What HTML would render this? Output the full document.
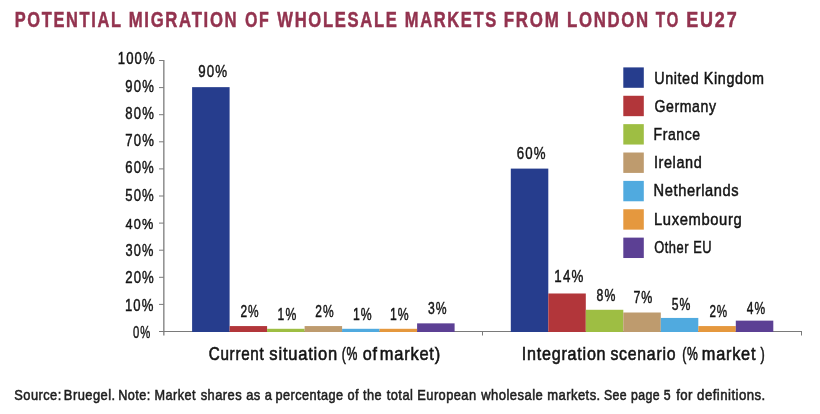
<!DOCTYPE html>
<html><head><meta charset="utf-8"><style>
html,body{margin:0;padding:0;background:#fff;width:820px;height:414px;overflow:hidden}
svg{display:block;will-change:transform}
text{font-family:"Liberation Sans",sans-serif}
</style></head><body>
<svg width="820" height="414" viewBox="0 0 820 414">
<rect width="820" height="414" fill="#fff"/>
<g fill="none">
<line x1="163.8" y1="60" x2="163.8" y2="335.5" stroke="#949494" stroke-width="1.6"/>
<line x1="159" y1="331.5" x2="802" y2="331.5" stroke="#7a7a7a" stroke-width="1.2"/>
<line x1="159" y1="304.4" x2="163.8" y2="304.4" stroke="#7a7a7a" stroke-width="1"/><line x1="159" y1="277.3" x2="163.8" y2="277.3" stroke="#7a7a7a" stroke-width="1"/><line x1="159" y1="250.2" x2="163.8" y2="250.2" stroke="#7a7a7a" stroke-width="1"/><line x1="159" y1="223.1" x2="163.8" y2="223.1" stroke="#7a7a7a" stroke-width="1"/><line x1="159" y1="196" x2="163.8" y2="196" stroke="#7a7a7a" stroke-width="1"/><line x1="159" y1="168.9" x2="163.8" y2="168.9" stroke="#7a7a7a" stroke-width="1"/><line x1="159" y1="141.8" x2="163.8" y2="141.8" stroke="#7a7a7a" stroke-width="1"/><line x1="159" y1="114.7" x2="163.8" y2="114.7" stroke="#7a7a7a" stroke-width="1"/><line x1="159" y1="87.6" x2="163.8" y2="87.6" stroke="#7a7a7a" stroke-width="1"/><line x1="159" y1="60.5" x2="163.8" y2="60.5" stroke="#7a7a7a" stroke-width="1"/>
<line x1="482.5" y1="331.5" x2="482.5" y2="335.5" stroke="#7a7a7a" stroke-width="1"/>
<line x1="801.5" y1="331.5" x2="801.5" y2="335.5" stroke="#7a7a7a" stroke-width="1"/>
</g>
<rect x="192.1" y="87.15" width="37.5" height="244.85" fill="#263d8d"/>
<rect x="229.6" y="326.07" width="37.5" height="5.93" fill="#b2363a"/>
<rect x="267.1" y="328.79" width="37.5" height="3.21" fill="#9ebe43"/>
<rect x="304.6" y="326.07" width="37.5" height="5.93" fill="#be9b6e"/>
<rect x="342.1" y="328.79" width="37.5" height="3.21" fill="#50aadf"/>
<rect x="379.6" y="328.79" width="37.5" height="3.21" fill="#e5983e"/>
<rect x="417.1" y="323.36" width="37.5" height="8.64" fill="#5c4094"/>
<rect x="510.8" y="168.6" width="37.5" height="163.4" fill="#263d8d"/>
<rect x="548.3" y="293.49" width="37.5" height="38.51" fill="#b2363a"/>
<rect x="585.8" y="309.78" width="37.5" height="22.22" fill="#9ebe43"/>
<rect x="623.3" y="312.5" width="37.5" height="19.5" fill="#be9b6e"/>
<rect x="660.8" y="317.93" width="37.5" height="14.07" fill="#50aadf"/>
<rect x="698.3" y="326.07" width="37.5" height="5.93" fill="#e5983e"/>
<rect x="735.8" y="320.64" width="37.5" height="11.36" fill="#5c4094"/>
<rect x="623.3" y="67.4" width="20.5" height="20.4" fill="#263d8d"/>
<rect x="623.3" y="95.77" width="20.5" height="20.4" fill="#b2363a"/>
<rect x="623.3" y="124.14" width="20.5" height="20.4" fill="#9ebe43"/>
<rect x="623.3" y="152.51" width="20.5" height="20.4" fill="#be9b6e"/>
<rect x="623.3" y="180.88" width="20.5" height="20.4" fill="#50aadf"/>
<rect x="623.3" y="209.25" width="20.5" height="20.4" fill="#e5983e"/>
<rect x="623.3" y="237.62" width="20.5" height="20.4" fill="#5c4094"/>
<text transform="translate(14.71 26.78) scale(0.7525 1)" font-size="21.83" font-weight="bold" fill="#93334f" letter-spacing="2.2" stroke="#93334f" stroke-width="0.5">POTENTIAL</text>
<text transform="translate(128.7 26.78) scale(0.7669 1)" font-size="21.83" font-weight="bold" fill="#93334f" letter-spacing="2.2" stroke="#93334f" stroke-width="0.5">MIGRATION</text>
<text transform="translate(244.96 26.78) scale(0.7330 1)" font-size="21.83" font-weight="bold" fill="#93334f" letter-spacing="2.2" stroke="#93334f" stroke-width="0.5">OF</text>
<text transform="translate(277.3 26.78) scale(0.7615 1)" font-size="21.83" font-weight="bold" fill="#93334f" letter-spacing="2.2" stroke="#93334f" stroke-width="0.5">WHOLESALE</text>
<text transform="translate(404.76 26.78) scale(0.7557 1)" font-size="21.83" font-weight="bold" fill="#93334f" letter-spacing="2.2" stroke="#93334f" stroke-width="0.5">MARKETS</text>
<text transform="translate(503.83 26.78) scale(0.7751 1)" font-size="21.83" font-weight="bold" fill="#93334f" letter-spacing="2.2" stroke="#93334f" stroke-width="0.5">FROM</text>
<text transform="translate(566.99 26.78) scale(0.7690 1)" font-size="21.83" font-weight="bold" fill="#93334f" letter-spacing="2.2" stroke="#93334f" stroke-width="0.5">LONDON</text>
<text transform="translate(655.85 26.78) scale(0.6983 1)" font-size="21.83" font-weight="bold" fill="#93334f" letter-spacing="2.2" stroke="#93334f" stroke-width="0.5">TO</text>
<text transform="translate(686.22 26.78) scale(0.8239 1)" font-size="21.83" font-weight="bold" fill="#93334f" letter-spacing="2.2" stroke="#93334f" stroke-width="0.5">EU27</text>
<text transform="translate(117.78 63.68) scale(0.7871 1)" font-size="16.69" font-weight="normal" fill="#141414" letter-spacing="1.4" stroke="#141414" stroke-width="0.45">100%</text>
<text transform="translate(125.33 91.54) scale(0.8310 1)" font-size="15.74" font-weight="normal" fill="#141414" letter-spacing="1.4" stroke="#141414" stroke-width="0.45">90%</text>
<text transform="translate(125.33 118.74) scale(0.8159 1)" font-size="16.06" font-weight="normal" fill="#141414" letter-spacing="1.4" stroke="#141414" stroke-width="0.45">80%</text>
<text transform="translate(125.19 145.74) scale(0.8401 1)" font-size="15.63" font-weight="normal" fill="#141414" letter-spacing="1.4" stroke="#141414" stroke-width="0.45">70%</text>
<text transform="translate(125.19 173.22) scale(0.8248 1)" font-size="15.95" font-weight="normal" fill="#141414" letter-spacing="1.4" stroke="#141414" stroke-width="0.45">60%</text>
<text transform="translate(125.32 200.83) scale(0.7784 1)" font-size="16.9" font-weight="normal" fill="#141414" letter-spacing="1.4" stroke="#141414" stroke-width="0.45">50%</text>
<text transform="translate(125.6 228.59) scale(0.8166 1)" font-size="15.56" font-weight="normal" fill="#141414" letter-spacing="1.4" stroke="#141414" stroke-width="0.45">40%</text>
<text transform="translate(125.47 255.84) scale(0.7879 1)" font-size="16.27" font-weight="normal" fill="#141414" letter-spacing="1.4" stroke="#141414" stroke-width="0.45">30%</text>
<text transform="translate(125.19 282.99) scale(0.8198 1)" font-size="16.06" font-weight="normal" fill="#141414" letter-spacing="1.4" stroke="#141414" stroke-width="0.45">20%</text>
<text transform="translate(124.93 310.83) scale(0.7754 1)" font-size="16.9" font-weight="normal" fill="#141414" letter-spacing="1.4" stroke="#141414" stroke-width="0.45">10%</text>
<text transform="translate(132.96 337.73) scale(0.6666 1)" font-size="16.9" font-weight="normal" fill="#141414" letter-spacing="1.4" stroke="#141414" stroke-width="0.45">0%</text>
<text transform="translate(198.22 77.28) scale(0.7793 1)" font-size="17.11" font-weight="normal" fill="#141414" letter-spacing="1.4" stroke="#141414" stroke-width="0.45">90%</text>
<text transform="translate(240.4 316.83) scale(0.7044 1)" font-size="16.9" font-weight="normal" fill="#141414" letter-spacing="1.4" stroke="#141414" stroke-width="0.45">2%</text>
<text transform="translate(277.6 319.74) scale(0.7468 1)" font-size="16.27" font-weight="normal" fill="#141414" letter-spacing="1.4" stroke="#141414" stroke-width="0.45">1%</text>
<text transform="translate(315.3 316.83) scale(0.7105 1)" font-size="16.9" font-weight="normal" fill="#141414" letter-spacing="1.4" stroke="#141414" stroke-width="0.45">2%</text>
<text transform="translate(352.89 319.74) scale(0.7511 1)" font-size="16.27" font-weight="normal" fill="#141414" letter-spacing="1.4" stroke="#141414" stroke-width="0.45">1%</text>
<text transform="translate(389.89 319.74) scale(0.7511 1)" font-size="16.27" font-weight="normal" fill="#141414" letter-spacing="1.4" stroke="#141414" stroke-width="0.45">1%</text>
<text transform="translate(427.89 313.84) scale(0.7474 1)" font-size="16.27" font-weight="normal" fill="#141414" letter-spacing="1.4" stroke="#141414" stroke-width="0.45">3%</text>
<text transform="translate(516.79 158.98) scale(0.7746 1)" font-size="17.11" font-weight="normal" fill="#141414" letter-spacing="1.4" stroke="#141414" stroke-width="0.45">60%</text>
<text transform="translate(554.37 282.39) scale(0.8194 1)" font-size="16.27" font-weight="normal" fill="#141414" letter-spacing="1.4" stroke="#141414" stroke-width="0.45">14%</text>
<text transform="translate(596.56 300.59) scale(0.7800 1)" font-size="15.7" font-weight="normal" fill="#141414" letter-spacing="1.4" stroke="#141414" stroke-width="0.45">8%</text>
<text transform="translate(633.38 303.39) scale(0.7619 1)" font-size="16.27" font-weight="normal" fill="#141414" letter-spacing="1.4" stroke="#141414" stroke-width="0.45">7%</text>
<text transform="translate(671.66 309.84) scale(0.7504 1)" font-size="16.27" font-weight="normal" fill="#141414" letter-spacing="1.4" stroke="#141414" stroke-width="0.45">5%</text>
<text transform="translate(709.41 316.68) scale(0.6804 1)" font-size="17.11" font-weight="normal" fill="#141414" letter-spacing="1.4" stroke="#141414" stroke-width="0.45">2%</text>
<text transform="translate(746.74 313.73) scale(0.7008 1)" font-size="17.11" font-weight="normal" fill="#141414" letter-spacing="1.4" stroke="#141414" stroke-width="0.45">4%</text>
<text transform="translate(654.2 83.8) scale(0.8604 1)" font-size="16.67" font-weight="normal" fill="#141414" letter-spacing="0.7" stroke="#141414" stroke-width="0.5">United Kingdom</text>
<text transform="translate(654.5 111.95) scale(0.8449 1)" font-size="16.67" font-weight="normal" fill="#141414" letter-spacing="0.7" stroke="#141414" stroke-width="0.5">Germany</text>
<text transform="translate(653.58 140.1) scale(0.8393 1)" font-size="16.67" font-weight="normal" fill="#141414" letter-spacing="0.7" stroke="#141414" stroke-width="0.5">France</text>
<text transform="translate(653.9 168.25) scale(0.8677 1)" font-size="16.67" font-weight="normal" fill="#141414" letter-spacing="0.7" stroke="#141414" stroke-width="0.5">Ireland</text>
<text transform="translate(653.53 196.4) scale(0.8797 1)" font-size="16.67" font-weight="normal" fill="#141414" letter-spacing="0.7" stroke="#141414" stroke-width="0.5">Netherlands</text>
<text transform="translate(654.02 224.55) scale(0.8859 1)" font-size="16.67" font-weight="normal" fill="#141414" letter-spacing="0.7" stroke="#141414" stroke-width="0.5">Luxembourg</text>
<text transform="translate(654.19 252.7) scale(0.7724 1)" font-size="16.67" font-weight="normal" fill="#141414" letter-spacing="0.7" stroke="#141414" stroke-width="0.5">Other EU</text>
<text transform="translate(208.69 359.7) scale(0.8024 1)" font-size="18.99" font-weight="normal" fill="#141414" letter-spacing="0.9" stroke="#141414" stroke-width="0.6">Current</text>
<text transform="translate(269.37 359.7) scale(0.8723 1)" font-size="18.99" font-weight="normal" fill="#141414" letter-spacing="0.9" stroke="#141414" stroke-width="0.6">situation</text>
<text transform="translate(341.87 359.7) scale(0.6425 1)" font-size="18.99" font-weight="normal" fill="#141414" letter-spacing="0.9" stroke="#141414" stroke-width="0.6">(%</text>
<text transform="translate(362.8 359.7) scale(0.8523 1)" font-size="18.99" font-weight="normal" fill="#141414" letter-spacing="0.9" stroke="#141414" stroke-width="0.6">of</text>
<text transform="translate(379.81 359.7) scale(0.8654 1)" font-size="18.99" font-weight="normal" fill="#141414" letter-spacing="0.9" stroke="#141414" stroke-width="0.6">market)</text>
<text transform="translate(521.75 359.7) scale(0.8495 1)" font-size="18.99" font-weight="normal" fill="#141414" letter-spacing="0.9" stroke="#141414" stroke-width="0.6">Integration</text>
<text transform="translate(610.43 359.7) scale(0.8338 1)" font-size="18.99" font-weight="normal" fill="#141414" letter-spacing="0.9" stroke="#141414" stroke-width="0.6">scenario</text>
<text transform="translate(682.32 359.7) scale(0.6403 1)" font-size="18.99" font-weight="normal" fill="#141414" letter-spacing="0.9" stroke="#141414" stroke-width="0.6">(%</text>
<text transform="translate(701.77 359.7) scale(0.8596 1)" font-size="18.99" font-weight="normal" fill="#141414" letter-spacing="0.9" stroke="#141414" stroke-width="0.6">market</text>
<text transform="translate(760.45 359.7) scale(0.6678 1)" font-size="18.99" font-weight="normal" fill="#141414" letter-spacing="0.9" stroke="#141414" stroke-width="0.6">)</text>
<text transform="translate(14.34 399.8) scale(0.8940 1)" font-size="14.35" font-weight="normal" fill="#1e1e1e" letter-spacing="0.5" stroke="#1e1e1e" stroke-width="0.55">Source:</text>
<text transform="translate(63.87 399.8) scale(0.9004 1)" font-size="14.35" font-weight="normal" fill="#1e1e1e" letter-spacing="0.5" stroke="#1e1e1e" stroke-width="0.55">Bruegel.</text>
<text transform="translate(118.14 399.8) scale(0.8831 1)" font-size="14.35" font-weight="normal" fill="#1e1e1e" letter-spacing="0.5" stroke="#1e1e1e" stroke-width="0.55">Note: Market</text>
<text transform="translate(200.64 399.8) scale(0.9007 1)" font-size="14.35" font-weight="normal" fill="#1e1e1e" letter-spacing="0.5" stroke="#1e1e1e" stroke-width="0.55">shares as a</text>
<text transform="translate(275.54 399.8) scale(0.8863 1)" font-size="14.35" font-weight="normal" fill="#1e1e1e" letter-spacing="0.5" stroke="#1e1e1e" stroke-width="0.55">percentage of the</text>
<text transform="translate(386.77 399.8) scale(0.8950 1)" font-size="14.35" font-weight="normal" fill="#1e1e1e" letter-spacing="0.5" stroke="#1e1e1e" stroke-width="0.55">total European</text>
<text transform="translate(481.28 399.8) scale(0.9060 1)" font-size="14.35" font-weight="normal" fill="#1e1e1e" letter-spacing="0.5" stroke="#1e1e1e" stroke-width="0.55">wholesale markets.</text>
<text transform="translate(603.96 399.8) scale(0.8567 1)" font-size="14.35" font-weight="normal" fill="#1e1e1e" letter-spacing="0.5" stroke="#1e1e1e" stroke-width="0.55">See page 5</text>
<text transform="translate(676.17 399.8) scale(0.9207 1)" font-size="14.35" font-weight="normal" fill="#1e1e1e" letter-spacing="0.5" stroke="#1e1e1e" stroke-width="0.55">for definitions.</text>
</svg>
</body></html>
